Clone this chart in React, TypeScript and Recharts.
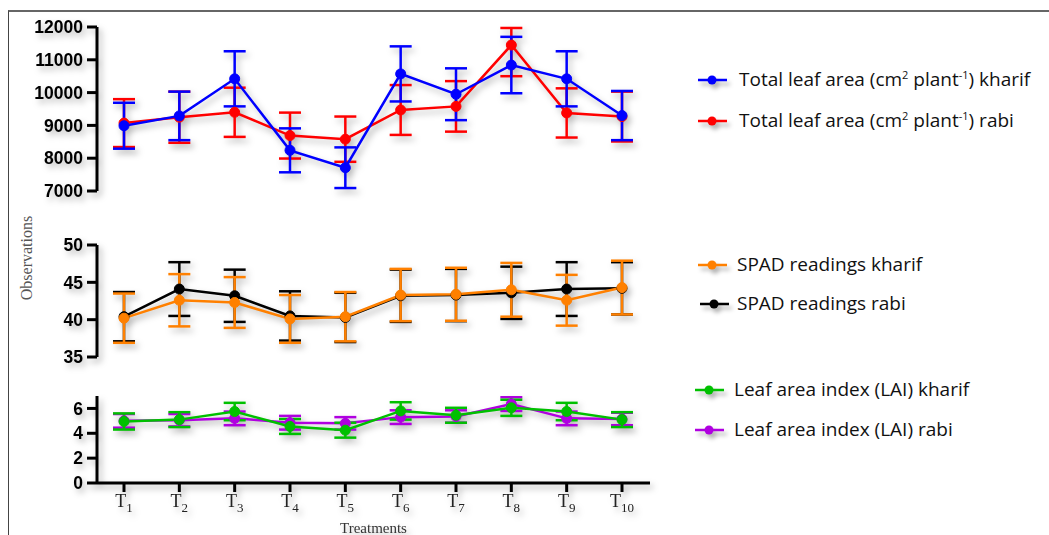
import React from "react";
import { LineChart, Line, XAxis, YAxis, ErrorBar } from "recharts";

// treatments on the shared x axis
const treatments = ["T1", "T2", "T3", "T4", "T5", "T6", "T7", "T8", "T9", "T10"];

// total leaf area (cm2 plant-1)
const leafAreaKharif = [8990, 9290, 10420, 8240, 7710, 10570, 9950, 10840, 10420, 9300];
const leafAreaKharifErr = [700, 740, 840, 670, 620, 840, 790, 860, 840, 750];
const leafAreaRabi = [9070, 9250, 9400, 8690, 8580, 9470, 9580, 11450, 9380, 9270];
const leafAreaRabiErr: (number | number[])[] = [730, 780, 750, 700, 690, 760, 770, [950, 520], 750, 760];

// SPAD readings
const spadKharif = [40.2, 42.6, 42.3, 40.1, 40.4, 43.3, 43.4, 44.0, 42.6, 44.3];
const spadKharifErr = [3.3, 3.5, 3.4, 3.2, 3.3, 3.5, 3.55, 3.6, 3.4, 3.6];
const spadRabi = [40.4, 44.1, 43.2, 40.5, 40.3, 43.2, 43.3, 43.6, 44.1, 44.2];
const spadRabiErr = [3.3, 3.6, 3.5, 3.3, 3.3, 3.5, 3.5, 3.5, 3.6, 3.5];

// leaf area index
const laiKharif = [4.95, 5.1, 5.75, 4.55, 4.25, 5.8, 5.45, 6.05, 5.75, 5.1];
const laiKharifErr = [0.65, 0.6, 0.7, 0.6, 0.6, 0.7, 0.6, 0.65, 0.7, 0.6];
const laiRabi = [5.0, 5.05, 5.2, 4.85, 4.8, 5.3, 5.35, 6.35, 5.2, 5.15];
const laiRabiErr = [0.55, 0.5, 0.55, 0.55, 0.5, 0.55, 0.5, 0.55, 0.55, 0.5];

const leafTicks = [7000, 8000, 9000, 10000, 11000, 12000];
const spadTicks = [35, 40, 45, 50];
const laiTicks = [0, 2, 4, 6];

const C = {
  blue: "#0000ff",
  red: "#ff0000",
  orange: "#ff8000",
  black: "#000000",
  green: "#00c000",
  purple: "#b000e0",
};

const leafData = treatments.map((t, i) => ({
  t,
  kharif: leafAreaKharif[i],
  kharifErr: leafAreaKharifErr[i],
  rabi: leafAreaRabi[i],
  rabiErr: leafAreaRabiErr[i],
}));
const spadData = treatments.map((t, i) => ({
  t,
  kharif: spadKharif[i],
  kharifErr: spadKharifErr[i],
  rabi: spadRabi[i],
  rabiErr: spadRabiErr[i],
}));
const laiData = treatments.map((t, i) => ({
  t,
  kharif: laiKharif[i],
  kharifErr: laiKharifErr[i],
  rabi: laiRabi[i],
  rabiErr: laiRabiErr[i],
}));

const W = 1049;
const xPad = { left: 27, right: 28 };
const rightMargin = W - 650;

const yAxisProps = {
  width: 97,
  axisLine: { stroke: "#000", strokeWidth: 3 },
  tickLine: { stroke: "#000", strokeWidth: 3 },
  tickSize: 10,
  tickMargin: 4,
  interval: 0 as const,
  allowDataOverflow: true,
  tick: { fill: "#000", fontSize: 17.5, fontWeight: 700, fontFamily: "Liberation Sans, Arial, sans-serif" },
};

function series(color: string, key: string, errKey: string) {
  return (
    <Line
      key={key}
      dataKey={key}
      stroke={color}
      strokeWidth={2.5}
      dot={{ r: 5, fill: color, stroke: color, strokeWidth: 1 }}
      activeDot={false}
      isAnimationActive={false}
    >
      <ErrorBar dataKey={errKey} direction="y" width={11} stroke={color} strokeWidth={2.5} />
    </Line>
  );
}

function TreatmentTick(props: any) {
  const { x, y, payload } = props;
  const num = String(payload.value).slice(1);
  return (
    <g transform={`translate(${x},${y})`}>
      <text textAnchor="middle" fill="#222" fontFamily="Liberation Serif, Times New Roman, serif" fontSize={18} dy={13}>
        T
        <tspan fontSize={13} dy={5}>
          {num}
        </tspan>
      </text>
    </g>
  );
}

function LegendItem({ color, top, left, textLeft, children }: any) {
  return (
    <div style={{ position: "absolute", top: top - 12, left, height: 24, display: "flex", alignItems: "center" }}>
      <svg width={30} height={12} style={{ filter: "drop-shadow(3px 4px 2px rgba(0,0,0,0.3))" }}>
        <line x1={0} y1={6} x2={29} y2={6} stroke={color} strokeWidth={2.5} />
        <circle cx={14} cy={6} r={4.5} fill={color} />
      </svg>
      <span
        style={{
          position: "absolute",
          left: textLeft - left,
          top: -1,
          whiteSpace: "nowrap",
          fontFamily: "Open Sans, sans-serif",
          fontSize: 19,
          lineHeight: "24px",
          color: "#111",
        }}
      >
        {children}
      </span>
    </div>
  );
}

const sup = { fontSize: 11, verticalAlign: "super", lineHeight: 0 } as const;

export default function App() {
  return (
    <div style={{ position: "absolute", left: 0, top: 0, width: W, height: 535, background: "#fff", overflow: "hidden" }}>
      <style>{`.recharts-surface { filter: drop-shadow(3px 4px 3px rgba(0,0,0,0.28)); overflow: visible; }`}</style>
      <div style={{ position: "absolute", left: 8, top: 10, width: W - 8, height: 525, borderTop: "2px solid #666", borderLeft: "1.5px solid #444" }} />

      <div style={{ position: "absolute", left: 0, top: 0 }}>
        <LineChart width={W} height={200} data={leafData} margin={{ top: 27, bottom: 9, left: 0, right: rightMargin }}>
          <XAxis dataKey="t" hide padding={xPad} />
          <YAxis {...yAxisProps} domain={[7000, 12000]} ticks={leafTicks} />
          {series(C.red, "rabi", "rabiErr")}
          {series(C.blue, "kharif", "kharifErr")}
        </LineChart>
      </div>

      <div style={{ position: "absolute", left: 0, top: 200 }}>
        <LineChart width={W} height={170} data={spadData} margin={{ top: 45, bottom: 13, left: 0, right: rightMargin }}>
          <XAxis dataKey="t" hide padding={xPad} />
          <YAxis {...yAxisProps} domain={[35, 50]} ticks={spadTicks} />
          {series(C.black, "rabi", "rabiErr")}
          {series(C.orange, "kharif", "kharifErr")}
        </LineChart>
      </div>

      <div style={{ position: "absolute", left: 0, top: 370 }}>
        <LineChart width={W} height={165} data={laiData} margin={{ top: 26, bottom: 0, left: 0, right: rightMargin }}>
          <XAxis
            dataKey="t"
            padding={xPad}
            height={52}
            axisLine={{ stroke: "#000", strokeWidth: 3 }}
            tickLine={{ stroke: "#000", strokeWidth: 3 }}
            tickSize={9}
            tick={<TreatmentTick />}
            interval={0}
            label={{
              value: "Treatments",
              position: "insideBottom",
              offset: 2,
              fill: "#333",
              fontSize: 15,
              fontFamily: "Liberation Serif, Times New Roman, serif",
            }}
          />
          <YAxis {...yAxisProps} domain={[0, 7]} ticks={laiTicks} />
          {series(C.purple, "rabi", "rabiErr")}
          {series(C.green, "kharif", "kharifErr")}
        </LineChart>
      </div>

      <div
        style={{
          position: "absolute",
          left: 27,
          top: 258,
          transform: "translate(-50%, -50%) rotate(-90deg)",
          fontFamily: "Liberation Serif, Times New Roman, serif",
          fontSize: 16,
          color: "#555",
          whiteSpace: "nowrap",
        }}
      >
        Observations
      </div>

      <LegendItem color={C.blue} top={80} left={698} textLeft={739}>
        Total leaf area (cm<span style={sup}>2</span> plant<span style={sup}>-1</span>) kharif
      </LegendItem>
      <LegendItem color={C.red} top={121} left={698} textLeft={739}>
        Total leaf area (cm<span style={sup}>2</span> plant<span style={sup}>-1</span>) rabi
      </LegendItem>
      <LegendItem color={C.orange} top={265} left={698} textLeft={737}>
        SPAD readings kharif
      </LegendItem>
      <LegendItem color={C.black} top={304} left={700} textLeft={737}>
        SPAD readings rabi
      </LegendItem>
      <LegendItem color={C.green} top={390} left={695} textLeft={734}>
        Leaf area index (LAI) kharif
      </LegendItem>
      <LegendItem color={C.purple} top={430} left={695} textLeft={734}>
        Leaf area index (LAI) rabi
      </LegendItem>
    </div>
  );
}
